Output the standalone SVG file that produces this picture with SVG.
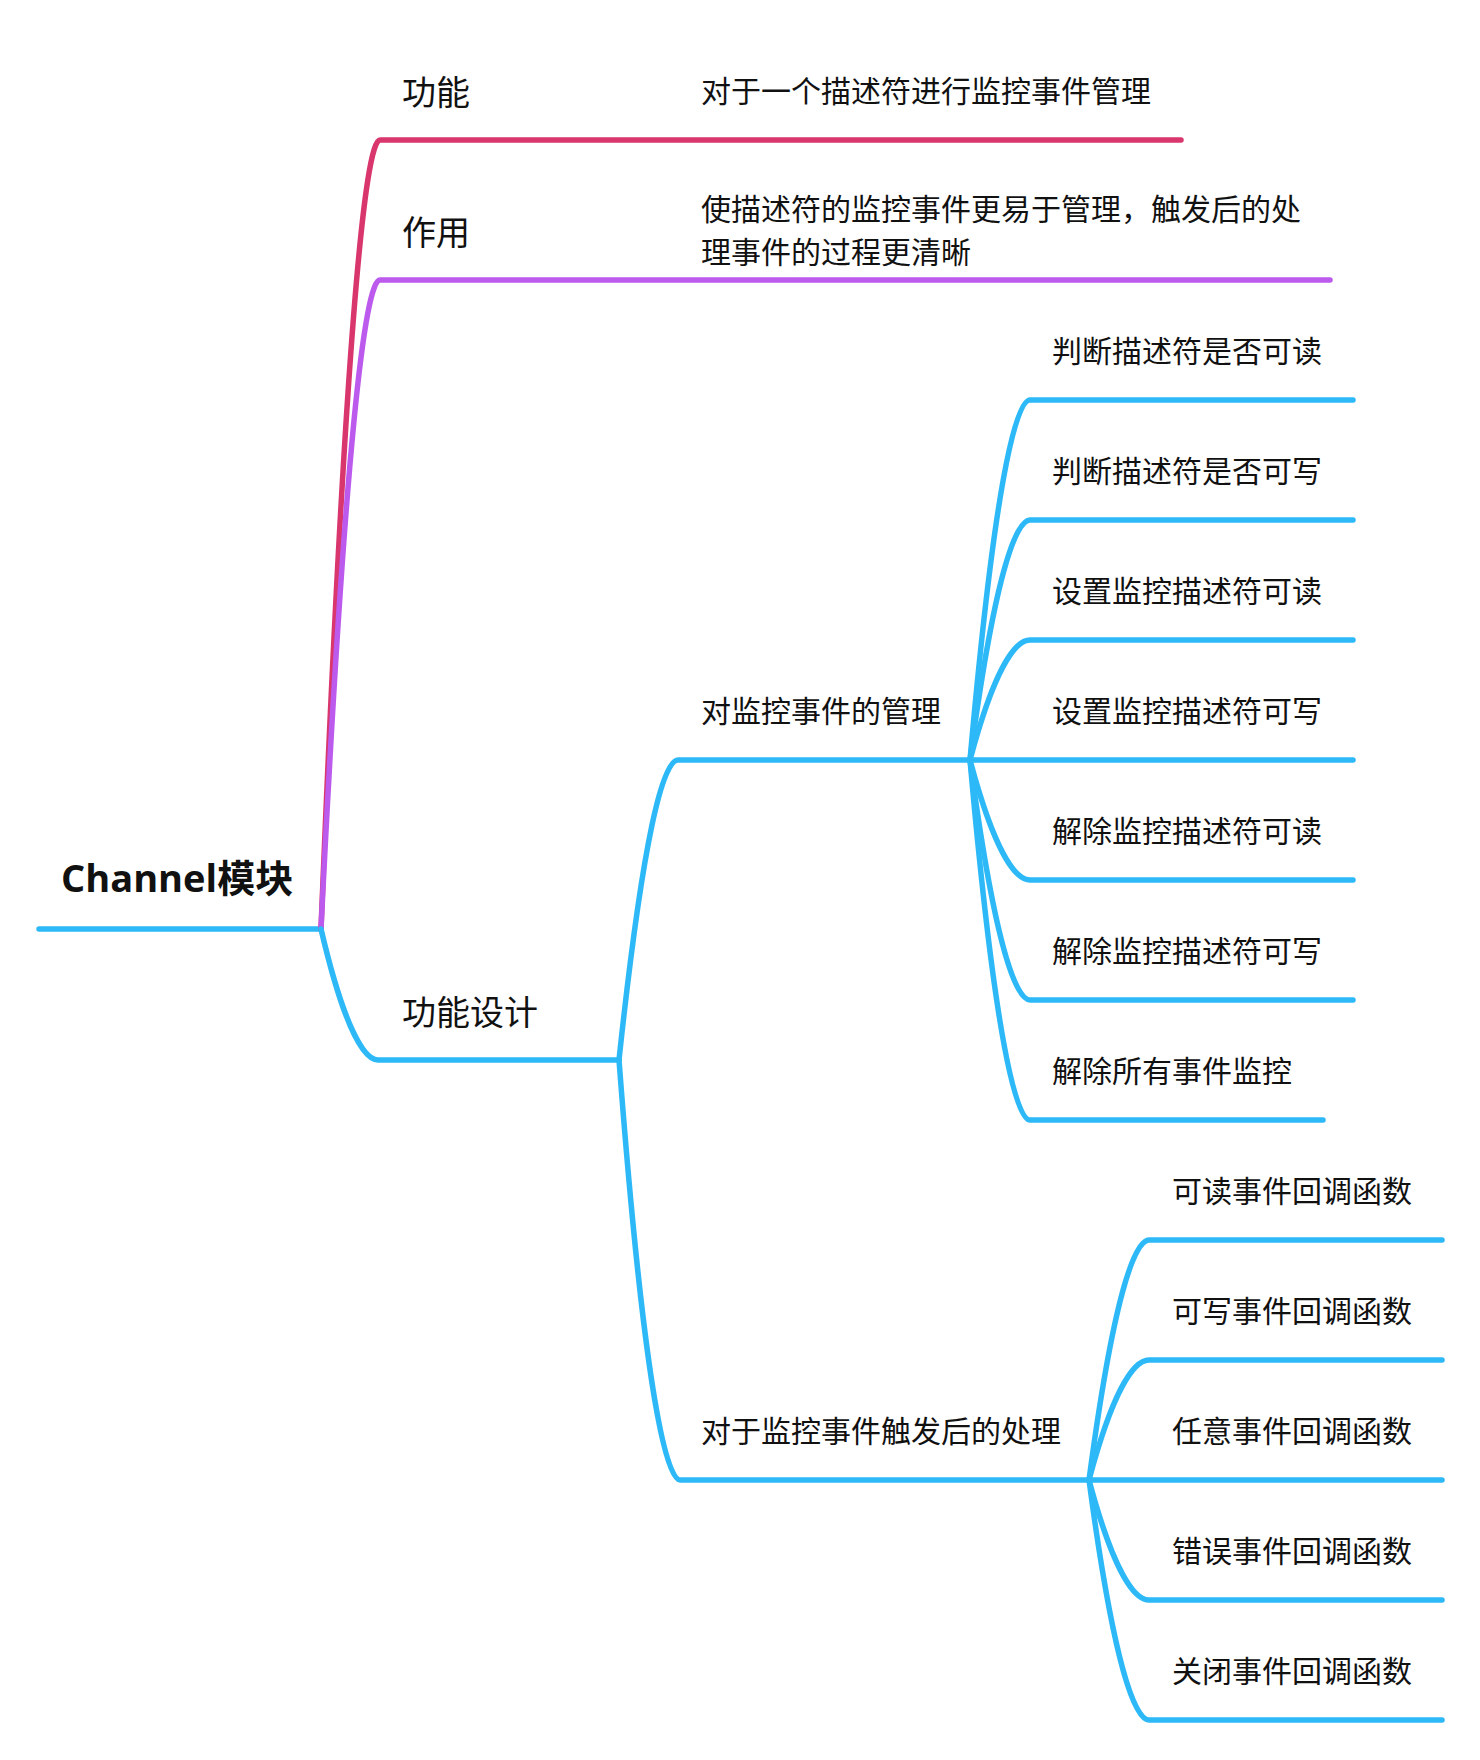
<svg xmlns="http://www.w3.org/2000/svg" width="1480" height="1760" viewBox="0 0 1480 1760">
<style>
  .ln { fill: none; stroke-width: 5.5; stroke-linecap: round; stroke-linejoin: round; }
  .red { stroke: #D8366C; }
  .pur { stroke: #BC5AEE; }
  .blu { stroke: #2DB9F7; }
  text { font-family: "Noto Sans CJK SC", "Noto Sans", sans-serif; fill: #111; }
  .root { font-family: "Open Sans", "Noto Sans CJK SC", sans-serif; font-weight: bold; font-size: 38px; }
  .l1 { font-size: 34px; }
  .l2 { font-size: 30px; }
</style>
<rect width="1480" height="1760" fill="#fff"/>
<g id="connectors">
  <path class="ln blu" d="M39,929 H321"/>
  <path class="ln red" d="M321,929 C345,337 365,140 380,140 H1181"/>
  <path class="ln pur" d="M321,929 C345,442 365,280 380,280 H1330"/>
  <path class="ln blu" d="M321,929 C344,1027 364,1060 378,1060 H619"/>
  <path class="ln blu" d="M619,1060 C643,835 663,760 678,760 H970"/>
  <path class="ln blu" d="M619,1060 C643,1375 665,1480 680,1480 H1089"/>
  <path class="ln blu" d="M970,760 C994,490 1015,400 1030,400 H1353"/>
  <path class="ln blu" d="M970,760 C994,580 1015,520 1030,520 H1353"/>
  <path class="ln blu" d="M970,760 C994,670 1015,640 1030,640 H1353"/>
  <path class="ln blu" d="M970,760 H1353"/>
  <path class="ln blu" d="M970,760 C994,850 1015,880 1030,880 H1353"/>
  <path class="ln blu" d="M970,760 C994,940 1015,1000 1030,1000 H1353"/>
  <path class="ln blu" d="M970,760 C994,1030 1015,1120 1030,1120 H1323"/>
  <path class="ln blu" d="M1089,1480 C1113,1300 1134,1240 1149,1240 H1442"/>
  <path class="ln blu" d="M1089,1480 C1113,1390 1134,1360 1149,1360 H1442"/>
  <path class="ln blu" d="M1089,1480 H1442"/>
  <path class="ln blu" d="M1089,1480 C1113,1570 1134,1600 1149,1600 H1442"/>
  <path class="ln blu" d="M1089,1480 C1113,1660 1134,1720 1149,1720 H1442"/>
</g>
<g id="node-root"><text class="root" x="61" y="892">Channel模块</text></g>
<g id="node-gongneng"><text class="l1" x="402" y="105">功能</text></g>
<g id="node-gongneng-desc"><text class="l2" x="701" y="102">对于一个描述符进行监控事件管理</text></g>
<g id="node-zuoyong"><text class="l1" x="402" y="245">作用</text></g>
<g id="node-zuoyong-desc"><text class="l2" x="701" y="220"><tspan x="701" y="220">使描述符的监控事件更易于管理，触发后的处</tspan><tspan x="701" y="263">理事件的过程更清晰</tspan></text></g>
<g id="node-design"><text class="l1" x="402" y="1025">功能设计</text></g>
<g id="node-manage"><text class="l2" x="701" y="722">对监控事件的管理</text></g>
<g id="node-handle"><text class="l2" x="701" y="1442">对于监控事件触发后的处理</text></g>
<g id="node-m1"><text class="l2" x="1052" y="362">判断描述符是否可读</text></g>
<g id="node-m2"><text class="l2" x="1052" y="482">判断描述符是否可写</text></g>
<g id="node-m3"><text class="l2" x="1052" y="602">设置监控描述符可读</text></g>
<g id="node-m4"><text class="l2" x="1052" y="722">设置监控描述符可写</text></g>
<g id="node-m5"><text class="l2" x="1052" y="842">解除监控描述符可读</text></g>
<g id="node-m6"><text class="l2" x="1052" y="962">解除监控描述符可写</text></g>
<g id="node-m7"><text class="l2" x="1052" y="1082">解除所有事件监控</text></g>
<g id="node-h1"><text class="l2" x="1172" y="1202">可读事件回调函数</text></g>
<g id="node-h2"><text class="l2" x="1172" y="1322">可写事件回调函数</text></g>
<g id="node-h3"><text class="l2" x="1172" y="1442">任意事件回调函数</text></g>
<g id="node-h4"><text class="l2" x="1172" y="1562">错误事件回调函数</text></g>
<g id="node-h5"><text class="l2" x="1172" y="1682">关闭事件回调函数</text></g>
</svg>
